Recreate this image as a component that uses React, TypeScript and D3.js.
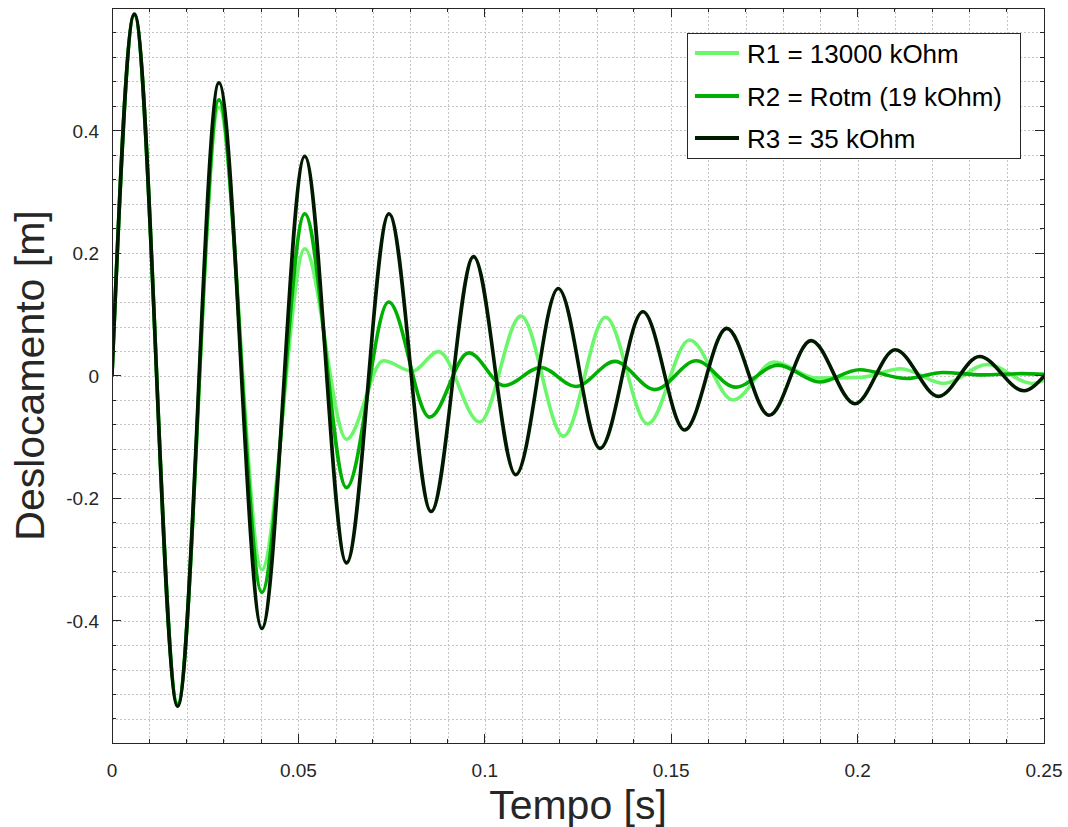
import React from "react";
import * as d3 from "d3";

// ---- axis ticks ----
const xTicks = [0, 0.05, 0.1, 0.15, 0.2, 0.25];
const xTickLabels = ["0", "0.05", "0.1", "0.15", "0.2", "0.25"];
const yTicks = [-0.4, -0.2, 0, 0.2, 0.4];
const yTickLabels = ["-0.4", "-0.2", "0", "0.2", "0.4"];
const xGrid = [0.01, 0.02, 0.03, 0.04, 0.05, 0.06, 0.07, 0.08, 0.09, 0.1, 0.11, 0.12, 0.13, 0.14, 0.15, 0.16, 0.17, 0.18, 0.19, 0.2, 0.21, 0.22, 0.23, 0.24];
const yGrid = [-0.56, -0.52, -0.48, -0.44, -0.4, -0.36, -0.32, -0.28, -0.24, -0.2, -0.16, -0.12, -0.08, -0.04, 0, 0.04, 0.08, 0.12, 0.16, 0.2, 0.24, 0.28, 0.32, 0.36, 0.4, 0.44, 0.48, 0.52, 0.56];

// ---- series (extrema) ----
const seriesNames = ["R1 = 13000 kOhm", "R2 = Rotm (19 kOhm)", "R3 = 35 kOhm"];
const seriesColors = ["#6cf66c", "#00b000", "#001a00"];

const tR1 = [0, 0.006, 0.0176, 0.0287, 0.0402, 0.0517, 0.0629, 0.0728, 0.0805, 0.0876, 0.0986, 0.1097, 0.1211, 0.1324, 0.1437, 0.1549, 0.1666, 0.1776, 0.1889, 0.201, 0.2116, 0.2232, 0.2348, 0.2468, 0.25];
const yR1 = [0, 0.588, -0.535, 0.438, -0.317, 0.207, -0.104, 0.024, 0.007, 0.039, -0.076, 0.097, -0.099, 0.095, -0.079, 0.058, -0.04, 0.022, -0.004, -0.003, 0.011, -0.013, 0.018, -0.013, -0.008];

const tR2 = [0, 0.006, 0.0176, 0.0287, 0.0402, 0.0517, 0.0629, 0.0742, 0.0852, 0.0957, 0.1052, 0.115, 0.1244, 0.1349, 0.1456, 0.1567, 0.1672, 0.1787, 0.1898, 0.2005, 0.2132, 0.2228, 0.2335, 0.244, 0.25];
const yR2 = [0, 0.589, -0.537, 0.45, -0.354, 0.264, -0.183, 0.12, -0.068, 0.037, -0.0165, 0.013, -0.018, 0.023, -0.023, 0.024, -0.019, 0.017, -0.0105, 0.0095, -0.005, 0.005, 0.001, 0.003, 0.002];

const tR3 = [0, 0.006, 0.0176, 0.0287, 0.0402, 0.0517, 0.0629, 0.0743, 0.0856, 0.097, 0.1083, 0.1197, 0.1309, 0.1424, 0.1536, 0.1649, 0.1763, 0.1875, 0.1993, 0.2101, 0.2217, 0.2327, 0.2446, 0.25];
const yR3 = [0, 0.59, -0.54, 0.478, -0.413, 0.358, -0.306, 0.264, -0.222, 0.194, -0.162, 0.142, -0.119, 0.104, -0.089, 0.077, -0.065, 0.057, -0.046, 0.042, -0.034, 0.031, -0.025, -0.001];

const seriesT = [tR1, tR2, tR3];
const seriesY = [yR1, yR2, yR3];

const W = 1068;
const H = 827;
const L = 112, R = 1044, T = 8, B = 743;
const FONT = "'Liberation Sans', Arial, Helvetica, sans-serif";
const AX = "#262626";

export default function App() {
  const x = d3.scaleLinear().domain([0, 0.25]).range([L, R]);
  const y = d3.scaleLinear().domain([-0.6, 0.6]).range([B, T]);
  const line = d3
    .line<[number, number]>()
    .x((d) => x(d[0]))
    .y((d) => y(d[1]))
    .curve(d3.curveMonotoneX);

  const paths = seriesT.map((ts, i) =>
    line(ts.map((t, j) => [t, seriesY[i][j]] as [number, number]))
  );

  const legX = 687, legY = 33, legW = 333, legH = 125;
  const legRows = [53, 96, 138];

  return (
    <div style={{ position: "absolute", left: 0, top: 0 }}>
      <svg width={W} height={H} style={{ display: "block", background: "#fff" }}>
        <defs>
          <clipPath id="plotclip">
            <rect x={L} y={T} width={R - L} height={B - T} />
          </clipPath>
        </defs>
        <rect x={0} y={0} width={W} height={H} fill="#fff" />
        {/* grid */}
        <g stroke="#c4c4c4" strokeWidth={1} strokeDasharray="2 2" shapeRendering="crispEdges">
          {xGrid.map((v) => (
            <line key={"gx" + v} x1={Math.round(x(v)) + 0.5} x2={Math.round(x(v)) + 0.5} y1={T} y2={B} />
          ))}
          {yGrid.map((v) => (
            <line key={"gy" + v} y1={Math.round(y(v)) + 0.5} y2={Math.round(y(v)) + 0.5} x1={L} x2={R} />
          ))}
        </g>
        {/* series */}
        <g clipPath="url(#plotclip)" fill="none" strokeLinejoin="round" strokeLinecap="round">
          {paths.map((p, i) => (
            <path key={"s" + i} d={p || ""} stroke={seriesColors[i]} strokeWidth={3.6} />
          ))}
        </g>
        {/* box */}
        <rect x={L} y={T} width={R - L} height={B - T} fill="none" stroke={AX} strokeWidth={1} shapeRendering="crispEdges" />
        {/* ticks */}
        <g stroke={AX} strokeWidth={1} shapeRendering="crispEdges">
          {xTicks.map((v) => (
            <g key={"xt" + v}>
              <line x1={x(v)} x2={x(v)} y1={B} y2={B - 9} />
              <line x1={x(v)} x2={x(v)} y1={T} y2={T + 9} />
            </g>
          ))}
          {yTicks.map((v) => (
            <g key={"yt" + v}>
              <line x1={L} x2={L + 9} y1={y(v)} y2={y(v)} />
              <line x1={R} x2={R - 9} y1={y(v)} y2={y(v)} />
            </g>
          ))}
          {xGrid.map((v) => (
            <g key={"xm" + v}>
              <line x1={x(v)} x2={x(v)} y1={B} y2={B - 4} />
              <line x1={x(v)} x2={x(v)} y1={T} y2={T + 4} />
            </g>
          ))}
          {yGrid.map((v) => (
            <g key={"ym" + v}>
              <line x1={L} x2={L + 4} y1={y(v)} y2={y(v)} />
              <line x1={R} x2={R - 4} y1={y(v)} y2={y(v)} />
            </g>
          ))}
        </g>
        {/* tick labels */}
        <g fontFamily={FONT} fontSize={19} fill={AX}>
          {xTicks.map((v, i) => (
            <text key={"xl" + v} x={x(v)} y={777} textAnchor="middle">
              {xTickLabels[i]}
            </text>
          ))}
          {yTicks.map((v, i) => (
            <text key={"yl" + v} x={99} y={y(v) + 7} textAnchor="end">
              {yTickLabels[i]}
            </text>
          ))}
        </g>
        {/* axis labels */}
        <text x={(L + R) / 2} y={819} textAnchor="middle" fontFamily={FONT} fontSize={41} fill={AX}>
          Tempo [s]
        </text>
        <text
          transform={`translate(44, ${(T + B) / 2}) rotate(-90)`}
          textAnchor="middle"
          fontFamily={FONT}
          fontSize={41}
          fill={AX}
        >
          Deslocamento [m]
        </text>
        {/* legend */}
        <rect x={legX} y={legY} width={legW} height={legH} fill="#fff" stroke={AX} strokeWidth={1} shapeRendering="crispEdges" />
        {seriesNames.map((n, i) => (
          <g key={"lg" + i}>
            <line x1={695} x2={739} y1={legRows[i]} y2={legRows[i]} stroke={seriesColors[i]} strokeWidth={4} />
            <text x={747} y={legRows[i] + 9.5} fontFamily={FONT} fontSize={26} fill="#000">
              {n}
            </text>
          </g>
        ))}
      </svg>
    </div>
  );
}
